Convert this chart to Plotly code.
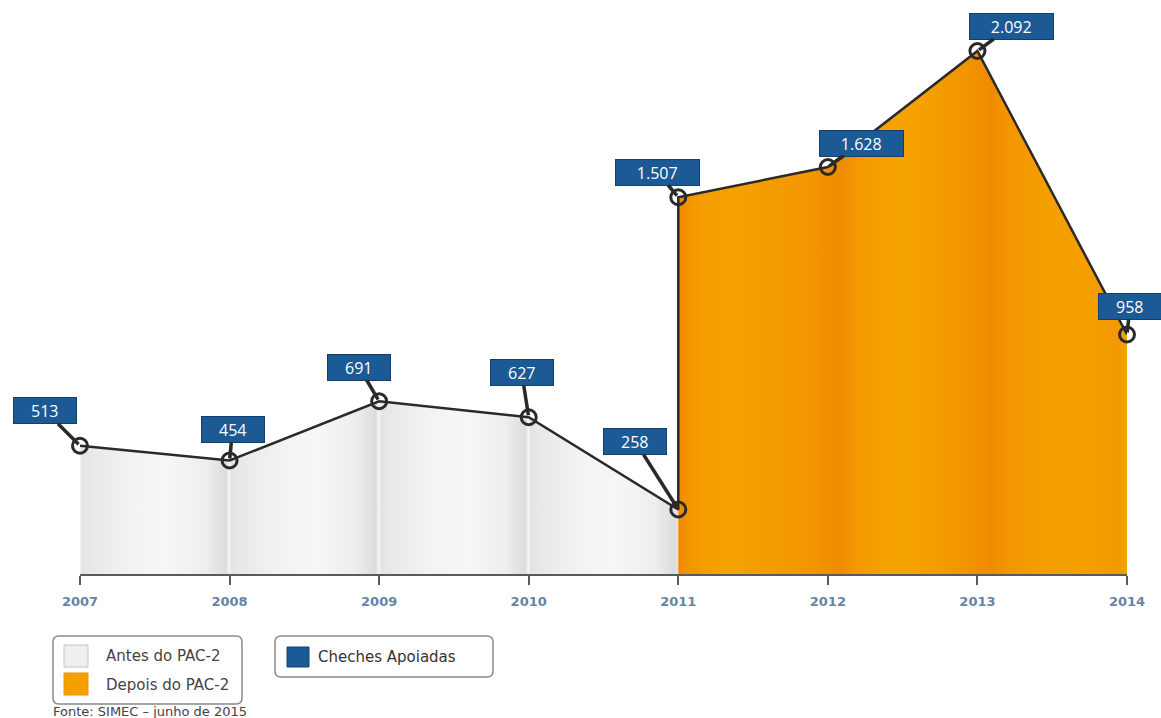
import plotly.graph_objects as go

# ---------------- data ----------------
years_before = [2007, 2008, 2009, 2010, 2011]
values_before = [513, 454, 691, 627, 258]
years_after = [2011, 2012, 2013, 2014]
values_after = [1507, 1628, 2092, 958]
tick_years = [2007, 2008, 2009, 2010, 2011, 2012, 2013, 2014]
series_name = "Cheches Apoiadas"
legend_before = "Antes do PAC-2"
legend_after = "Depois do PAC-2"
source_note = "Fonte: SIMEC – junho de 2015"

# label offsets (pixels) for the value callouts
label_offsets = [(-35, -35), (3, -31), (-20, -34), (-7, -45), (-43, -68),
                 (-21, -25), (34, -24), (34, -25), (3, -28)]

W, H = 1161, 718
ML, MR, MT, MB = 80, 34, 20, 144
YMAX = 2216

def px(x):
    return (x - ML) / (W - ML - MR)

def py(y):
    return (H - MB - y) / (H - MT - MB)

def fmt(v):
    return f"{v:,}".replace(",", ".")

# ---------------- gradients ----------------
gray_stops = []
for k in range(4):
    seg = [(0.000, "#f6f6f6"), (0.012, "#e4e4e4"), (0.07, "#e8e8e8"),
           (0.35, "#f3f3f3"), (0.6, "#f6f6f6"), (0.85, "#ededed"),
           (0.975, "#dcdcdc")]
    for p, c in seg:
        gray_stops.append(((k + p) / 4, c))
gray_stops.append((1.0, "#e6e6e6"))

orange_pts = [(0.00, "#ef8700"), (0.05, "#f29300"), (0.2, "#f5a000"),
              (0.4, "#f5a100"), (0.6, "#f49c00"), (0.85, "#f39700"),
              (1.09, "#f08b00"), (1.2, "#f49900"), (1.45, "#f6a400"),
              (1.7, "#f49e00"), (1.9, "#f29500"), (2.09, "#ef8a00"),
              (2.2, "#f29600"), (2.5, "#f5a000"), (2.8, "#f49d00"),
              (2.95, "#f39900"), (3.0, "#f5a400")]
orange_stops = [(p / 3, c) for p, c in orange_pts]

fig = go.Figure()

fig.add_trace(go.Scatter(
    x=years_before, y=values_before, mode="none", fill="tozeroy",
    fillgradient=dict(type="horizontal", colorscale=gray_stops,
                      start=years_before[0], stop=years_before[-1]),
    showlegend=False, hoverinfo="skip"))

fig.add_trace(go.Scatter(
    x=years_after, y=values_after, mode="none", fill="tozeroy",
    fillgradient=dict(type="horizontal", colorscale=orange_stops,
                      start=years_after[0], stop=years_after[-1]),
    showlegend=False, hoverinfo="skip"))

all_x = years_before + years_after
all_y = values_before + values_after

fig.add_trace(go.Scatter(
    x=all_x, y=all_y, mode="lines+markers",
    line=dict(color="#2a2a2a", width=2.5),
    marker=dict(symbol="circle-open", size=15,
                line=dict(color="#2a2a2a", width=3)),
    cliponaxis=False, showlegend=False, name=series_name))

annotations = []
for xv, yv, (ax, ay) in zip(all_x, all_y, label_offsets):
    txt = fmt(yv)
    annotations.append(dict(
        x=xv, y=yv, xref="x", yref="y", text=txt,
        ax=ax, ay=ay, showarrow=True, arrowhead=0, arrowwidth=3.5,
        arrowcolor="#2a2a2a", standoff=2,
        font=dict(family="Open Sans", size=16, color="white"),
        bgcolor="#1b5a94", bordercolor="#123f6b", borderwidth=1,
        borderpad=3, width=24 + 10.5 * len(txt), height=19))

# legend texts
annotations += [
    dict(x=px(104), y=py(656), xref="paper", yref="paper", text=legend_before,
         showarrow=False, xanchor="left", yanchor="middle",
         font=dict(family="DejaVu Sans", size=15, color="#444")),
    dict(x=px(104), y=py(685), xref="paper", yref="paper", text=legend_after,
         showarrow=False, xanchor="left", yanchor="middle",
         font=dict(family="DejaVu Sans", size=15, color="#444")),
    dict(x=px(316), y=py(657), xref="paper", yref="paper", text=series_name,
         showarrow=False, xanchor="left", yanchor="middle",
         font=dict(family="DejaVu Sans", size=15, color="#333")),
    dict(x=px(51), y=py(711), xref="paper", yref="paper", text=source_note,
         showarrow=False, xanchor="left", yanchor="middle",
         font=dict(family="DejaVu Sans", size=13, color="#444")),
]

def rounded(x0, y0, x1, y1, r):
    X0, X1 = px(x0), px(x1)
    Y0, Y1 = py(y0), py(y1)
    rx = r / (W - ML - MR)
    ry = r / (H - MT - MB)
    return (f"M {X0+rx},{Y0} L {X1-rx},{Y0} Q {X1},{Y0} {X1},{Y0-ry} "
            f"L {X1},{Y1+ry} Q {X1},{Y1} {X1-rx},{Y1} L {X0+rx},{Y1} "
            f"Q {X0},{Y1} {X0},{Y1+ry} L {X0},{Y0-ry} Q {X0},{Y0} {X0+rx},{Y0} Z")

shapes = [
    dict(type="path", xref="paper", yref="paper", path=rounded(53, 636, 242, 704, 6),
         line=dict(color="#8a8a8a", width=1.5), fillcolor="white"),
    dict(type="path", xref="paper", yref="paper", path=rounded(275, 636, 493, 677, 6),
         line=dict(color="#8a8a8a", width=1.5), fillcolor="white"),
    dict(type="rect", xref="paper", yref="paper", x0=px(64), x1=px(88),
         y0=py(645), y1=py(667), fillcolor="#efefef", line=dict(color="#c4c4c4", width=1)),
    dict(type="rect", xref="paper", yref="paper", x0=px(64), x1=px(88),
         y0=py(673), y1=py(695), fillcolor="#f5a000", line=dict(color="#e89500", width=1)),
    dict(type="rect", xref="paper", yref="paper", x0=px(287), x1=px(309),
         y0=py(647), y1=py(667), fillcolor="#1b5a94", line=dict(color="#134577", width=1)),
]

fig.update_layout(
    width=W, height=H,
    margin=dict(l=ML, r=MR, t=MT, b=MB),
    paper_bgcolor="white", plot_bgcolor="white",
    showlegend=False,
    annotations=annotations, shapes=shapes,
    xaxis=dict(range=[tick_years[0], tick_years[-1]], tickvals=tick_years,
               ticktext=[str(y) for y in tick_years],
               showgrid=False, zeroline=False, showline=True,
               linecolor="#5a5a5a", linewidth=2, ticks="outside", ticklen=9,
               tickwidth=2, tickcolor="#5a5a5a", ticklabelstandoff=5,
               tickfont=dict(family="DejaVu Sans", size=13, color="#6585a4",
                             weight="bold"),
               layer="above traces"),
    yaxis=dict(range=[0, YMAX], visible=False),
)

fig.write_html("out.html", config={"displayModeBar": False},
               post_script="document.body.style.margin='0';document.body.style.overflow='hidden';")
